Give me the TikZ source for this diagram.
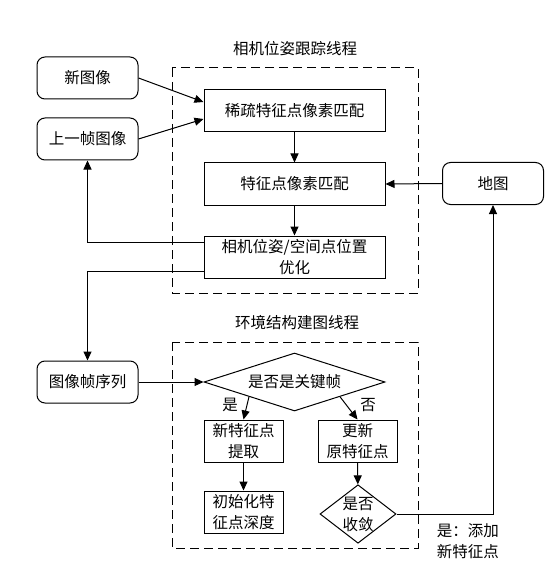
\documentclass[tikz,border=0pt]{standalone}
\usepackage{fontspec}
\setmainfont{Noto Sans CJK SC}
\usetikzlibrary{arrows.meta}
\usetikzlibrary{shapes.geometric}
\usetikzlibrary{positioning}
\usetikzlibrary{calc}
\tikzset{
	myround/.style={draw,rounded corners=8pt,minimum width=101pt,minimum height=42pt,inner sep=0pt},
	mybox/.style={draw,minimum width=181pt,minimum height=42pt,inner sep=0pt,align=center},
	mysmall/.style={draw,minimum width=79pt,minimum height=42pt,inner sep=0pt,align=center},
	mydiamond/.style={draw,diamond,inner sep=0pt,align=center},
	myframe/.style={dash pattern=on 9pt off 5pt},
	myarrow/.style={-{Triangle[length=9pt,width=8pt]}}
}
\begin{document}
\begin{tikzpicture}[x=1pt,y=-1pt,line width=1pt,font={\fontsize{15.5}{21}\selectfont}]
		\useasboundingbox (0,0) rectangle (553,580);
		
		% tracking thread frame
		\draw[myframe] (172,68) rectangle (418,293);
		\node (titleA) at (295,49) {相机位姿跟踪线程};
		
		% mapping thread frame
		\draw[myframe] (172,342) rectangle (418,548);
		\node (titleB) at (297,323) {环境结构建图线程};
		
		% input boxes
		\node[myround] (newimg) at (87.5,78) {新图像};
		\node[myround] (lastimg) at (87.5,139) {上一帧图像};
		\node[myround] (seq) at (87.5,382) {图像帧序列};
		\node[myround] (map) at (493,183.5) {地图};
		
		% tracking steps
		\node[mybox] (sparse) at (294.5,110.5) {稀疏特征点像素匹配};
		\node[mybox] (match) at (294.5,184) {特征点像素匹配};
		\node[mybox] (optim) at (294.5,257) {相机位姿/空间点位置\\优化};
		
		% mapping steps
		\node[mydiamond,aspect=3.1,minimum width=181pt,minimum height=58pt] (keyfr) at (294.5,382) {是否是关键帧};
		\node[mysmall] (newpt) at (243.5,441) {新特征点\\提取};
		\node[mysmall] (initd) at (243.5,512) {初始化特\\征点深度};
		\node[mysmall] (upd) at (357.5,441) {更新\\原特征点};
		\node[mydiamond,aspect=1.3,minimum width=75pt,minimum height=58pt] (conv) at (358,514) {是否\\收敛};
		
		% labels
		\node (yes) at (230,405) {是};
		\node (no) at (368,405) {否};
		\node[anchor=west,align=left] (add) at (433,541) {是：添加\\新特征点};
		
		% connectors
		\draw[myarrow] (newimg.east) -- ([yshift=8.5pt]sparse.west);
		\draw[myarrow] (lastimg.east) -- ([yshift=-8.5pt]sparse.west);
		\draw[myarrow] (sparse) -- (match);
		\draw[myarrow] (match) -- (optim);
		\draw[myarrow] ([yshift=15pt]optim.west) -| (lastimg.south);
		\draw[myarrow] ([yshift=-14pt]optim.west) -| (seq.north);
		\draw[myarrow] (map.west) -- (match.east);
		\draw[myarrow] (seq.east) -- (keyfr.west);
		\draw[myarrow] ($(keyfr.west)!0.5!(keyfr.south)$) -- (newpt.north);
		\draw[myarrow] ($(keyfr.south)!0.5!(keyfr.east)$) -- (upd.north);
		\draw[myarrow] (newpt) -- (initd);
		\draw[myarrow] (upd) -- (conv);
		\draw[myarrow] (conv.east) -| (map.south);
	\end{tikzpicture}
\end{document}
